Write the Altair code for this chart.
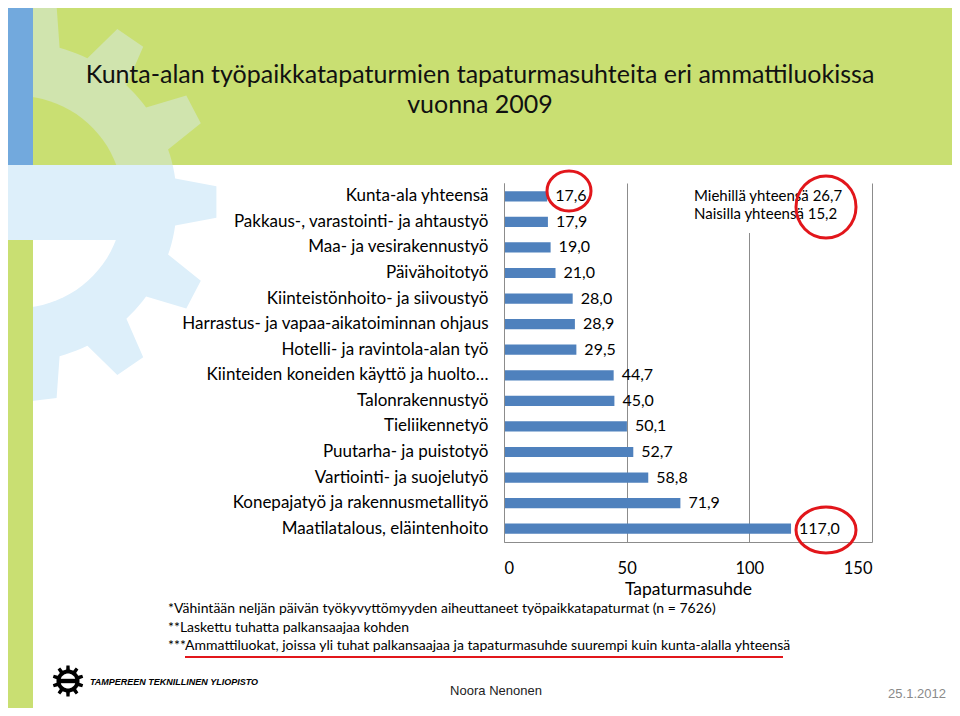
import math
import altair as alt
import pandas as pd

# ---------------- data ----------------
categories = [
    "Kunta-ala yhteensä",
    "Pakkaus-, varastointi- ja ahtaustyö",
    "Maa- ja vesirakennustyö",
    "Päivähoitotyö",
    "Kiinteistönhoito- ja siivoustyö",
    "Harrastus- ja vapaa-aikatoiminnan ohjaus",
    "Hotelli- ja ravintola-alan työ",
    "Kiinteiden koneiden käyttö ja huolto…",
    "Talonrakennustyö",
    "Tieliikennetyö",
    "Puutarha- ja puistotyö",
    "Vartiointi- ja suojelutyö",
    "Konepajatyö ja rakennusmetallityö",
    "Maatilatalous, eläintenhoito",
]
values = [17.6, 17.9, 19.0, 21.0, 28.0, 28.9, 29.5, 44.7, 45.0, 50.1, 52.7, 58.8, 71.9, 117.0]
x_ticks = [0, 50, 100, 150]

title_lines = [
    "Kunta-alan työpaikkatapaturmien tapaturmasuhteita eri ammattiluokissa",
    "vuonna 2009",
]
box_lines = ["Miehillä yhteensä 26,7", "Naisilla yhteensä 15,2"]
footnotes = [
    "*Vähintään neljän päivän työkyvyttömyyden aiheuttaneet työpaikkatapaturmat (n = 7626)",
    "**Laskettu tuhatta palkansaajaa kohden",
    "***Ammattiluokat, joissa yli tuhat palkansaajaa ja tapaturmasuhde suurempi kuin kunta-alalla yhteensä",
]
x_title = "Tapaturmasuhde"
logo_text = "TAMPEREEN TEKNILLINEN YLIOPISTO"
author = "Noora Nenonen"
date = "25.1.2012"

# ---------------- layout ----------------
OX, OY = 504, 183          # page pixel of plot origin
W, H = 368, 359
FONT = "Lato"
HEADER_GREEN = "#c9df72"
PALE_GREEN = "#d0e4ae"
LIGHT_BLUE = "#ddeffa"
STRIPE_BLUE = "#72a9dd"
BAR_BLUE = "#4F81BD"
GRID = "#8c8c8c"
RED = "#e2161b"

one = alt.Data(values=[{}])


def rect(x1, y1, x2, y2, color):
    return alt.Chart(one).mark_rect(color=color, opacity=1).encode(
        x=alt.value(x1 - OX), x2=alt.value(x2 - OX),
        y=alt.value(y1 - OY), y2=alt.value(y2 - OY))


def path_of(pts):
    return "M" + "L".join(f"{x - OX:.1f},{y - OY:.1f}" for x, y in pts) + "Z"


def shape(pts, color):
    return alt.Chart(one).mark_point(
        shape=path_of(pts), size=4, filled=True, fill=color, opacity=1,
        strokeWidth=0).encode(x=alt.value(0), y=alt.value(0))


def ellipse(cx, cy, rx, ry, color, sw=3):
    x, y = cx - OX, cy - OY
    p = (f"M{x - rx:.1f},{y:.1f}A{rx},{ry} 0 1,0 {x + rx:.1f},{y:.1f}"
         f"A{rx},{ry} 0 1,0 {x - rx:.1f},{y:.1f}Z")
    return alt.Chart(one).mark_point(
        shape=p, size=4, filled=False, stroke=color, strokeWidth=sw,
        opacity=1).encode(x=alt.value(0), y=alt.value(0))


def txt(s, x, y, size, align="left", color="black", font=FONT,
        weight="normal", style="normal", baseline="middle"):
    return alt.Chart(one).mark_text(
        text=s, align=align, baseline=baseline, fontSize=size, font=font,
        fontWeight=weight, fontStyle=style, color=color).encode(
        x=alt.value(x - OX), y=alt.value(y - OY))


def gear(cx, cy, n, r_root, r_tip, h_root, h_tip, phase=0.0, steps=5):
    pts = []
    step = 360.0 / n
    for k in range(n):
        c = phase + k * step
        for a, r in [(c - h_root, r_root), (c - h_tip, r_tip),
                     (c + h_tip, r_tip), (c + h_root, r_root)]:
            pts.append((cx + r * math.cos(math.radians(a)),
                        cy + r * math.sin(math.radians(a))))
        a0, a1 = c + h_root, c + step - h_root
        for i in range(1, steps):
            a = a0 + (a1 - a0) * i / steps
            pts.append((cx + r_root * math.cos(math.radians(a)),
                        cy + r_root * math.sin(math.radians(a))))
    return pts


def circle(cx, cy, r, n=90):
    return [(cx + r * math.cos(2 * math.pi * i / n),
             cy + r * math.sin(2 * math.pi * i / n)) for i in range(n)]


def clip_above(pts, ylim):
    """keep part with y <= ylim"""
    out = []
    for i in range(len(pts)):
        cur, prev = pts[i], pts[i - 1]
        ci, pi_ = cur[1] <= ylim, prev[1] <= ylim
        if ci != pi_:
            t = (ylim - prev[1]) / (cur[1] - prev[1])
            out.append((prev[0] + t * (cur[0] - prev[0]), ylim))
        if ci:
            out.append(cur)
    return out


# big watermark gear
GCX, GCY = 17, 202
g_pts = gear(GCX, GCY, 13, 160, 200, 8.5, 4.5)
hole = circle(GCX, GCY, 106)
HDR_B = 165

deco = [
    shape(g_pts, LIGHT_BLUE),
    shape(hole, "white"),
    rect(-100, HDR_B, 135, 240, LIGHT_BLUE),
    rect(33, 0, 970, HDR_B, HEADER_GREEN),
    shape(clip_above(g_pts, HDR_B), PALE_GREEN),
    shape(clip_above(hole, HDR_B), HEADER_GREEN),
    rect(0, 0, 33, HDR_B, STRIPE_BLUE),
    rect(0, 240, 33, 712, HEADER_GREEN),
    txt(title_lines[0], 480, 83, 25, align="center", color="#111111",
        baseline="alphabetic"),
    txt(title_lines[1], 480, 113, 25, align="center", color="#111111",
        baseline="alphabetic"),
]

# logo
LCX, LCY = 68, 681
deco += [
    shape(gear(LCX, LCY, 10, 11.5, 15.5, 9, 6, phase=18, steps=3), "black"),
    shape(circle(LCX, LCY, 7.5, 40), "white"),
    rect(LCX - 8.5, LCY - 2.2, LCX + 8.5, LCY + 2.2, "black"),
    txt(logo_text, 90, 682, 9, font="Liberation Sans", weight="bold",
        style="italic"),
    txt(author, 496, 691, 13, align="center", font="Liberation Sans",
        color="#222222"),
    txt(date, 917, 694, 13, align="center", font="Liberation Sans",
        color="#8a8a8a"),
]
for i, f in enumerate(footnotes):
    deco.append(txt(f, 168, [609, 628, 646][i], 14))

# ---------------- main chart ----------------
df = pd.DataFrame({"cat": categories, "v": values})
base = alt.Chart(df)
yenc = alt.Y(
    "cat:N", sort=categories,
    scale=alt.Scale(paddingInner=0.6, paddingOuter=0.32),
    axis=alt.Axis(title=None, ticks=False, labelPadding=16, labelFontSize=17,
                  labelLimit=600, labelFont=FONT, labelColor="black",
                  domainColor=GRID, zindex=1))
xenc = alt.X(
    "v:Q", scale=alt.Scale(domain=[0, 150], nice=False),
    axis=alt.Axis(values=x_ticks, grid=True, gridColor=GRID, gridOpacity=1,
                  domainColor=GRID, ticks=False, labelPadding=18,
                  labelFontSize=16.5, labelFont=FONT, labelColor="black",
                  title=x_title, titleFontSize=17.5, titleFont=FONT,
                  titleFontWeight="normal", titleColor="black",
                  titlePadding=4, zindex=0))

bars = base.mark_bar(color=BAR_BLUE).encode(y=yenc, x=xenc)
vals = base.transform_calculate(
    lab="replace(format(datum.v, '.1f'), '.', ',')"
).mark_text(align="left", baseline="middle", dx=8, fontSize=16, font=FONT,
            color="black").encode(x="v:Q", y=alt.Y("cat:N", sort=categories),
                                  text="lab:N")

over = [
    rect(689, 183, 862, 233, "white"),
    txt(box_lines[0], 694, 196, 15),
    txt(box_lines[1], 694, 214, 15),
    ellipse(569, 191, 22, 20, RED),
    ellipse(826, 207, 30, 31, RED),
    ellipse(826, 530, 30, 23, RED),
    alt.Chart(one).mark_rule(color=RED, strokeWidth=2).encode(
        x=alt.value(185 - OX), x2=alt.value(783 - OX), y=alt.value(657 - OY)),
]

chart = alt.layer(*deco, bars, vals, *over).properties(
    width=W, height=H,
    padding={"left": OX - 8, "top": OY - 8, "right": 944 - (OX - 8) - W,
             "bottom": 700 - (OY - 8) - H},
    autosize=alt.AutoSizeParams(type="none"),
).configure(background="white").configure_view(stroke=None)

chart.save("out.html", embed_options={"renderer": "svg", "actions": False})
